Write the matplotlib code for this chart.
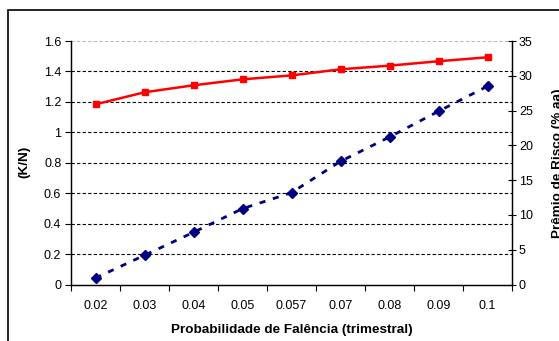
import numpy as np
import matplotlib.pyplot as plt
from matplotlib.patches import Rectangle

plt.rcParams['font.family'] = ['Liberation Sans', 'DejaVu Sans']

# probability categories on the x axis
prob_labels = ['0.02', '0.03', '0.04', '0.05', '0.057', '0.07', '0.08', '0.09', '0.1']
# K/N ratio (left axis)
kn = [1.184, 1.263, 1.309, 1.348, 1.374, 1.414, 1.438, 1.467, 1.493]
# risk premium, % per year (right axis)
premio = [0.93, 4.2, 7.5, 10.9, 13.2, 17.7, 21.2, 24.9, 28.5]

fig = plt.figure(figsize=(5.59, 3.41), dpi=100)
ax = fig.add_axes([71/559, 1 - 284.5/341, (512 - 71)/559, (284.5 - 41)/341])
ax2 = ax.twinx()

x = np.arange(len(prob_labels))

# grid from the left axis
for v in np.arange(0.2, 1.41, 0.2):
    ax.axhline(v, color='black', lw=0.8, ls=(0, (3, 2)), zorder=0)
ax.axhline(1.6, color='#bbbbbb', lw=0.8, ls=(0, (3, 2)), zorder=0)

ax.plot(x, kn, color='#ff0000', lw=1.8, marker='s', ms=4, mec='#ff0000', zorder=3)
ax2.plot(x, premio, color='#000080', lw=2, ls=(0, (2.2, 2.8)), marker='D', ms=5,
         mec='#000080', zorder=3)

ax.set_xlim(-0.5, len(prob_labels) - 0.5)
ax.set_ylim(0, 1.6)
ax2.set_ylim(0, 35)
ax.set_yticks(np.arange(0, 1.61, 0.2))
ax.set_yticklabels(['0', '0.2', '0.4', '0.6', '0.8', '1', '1.2', '1.4', '1.6'])
ax2.set_yticks(range(0, 36, 5))

ax.set_xticks(np.arange(-0.5, len(prob_labels), 1))
ax.set_xticklabels([])
ax.set_xticks(x, minor=True)
ax.set_xticklabels(prob_labels, minor=True)
ax.tick_params(axis='x', which='minor', length=0, pad=11)
ax.tick_params(axis='x', which='major', length=4, width=0.8, direction='out')
ax.tick_params(axis='y', length=4, width=0.8, pad=3)
ax2.tick_params(axis='y', length=6, width=0.8, pad=2, direction='inout')
for a in (ax, ax2):
    a.tick_params(which='both', labelsize=9)
    a.spines['top'].set_visible(False)
    for s in ('left', 'bottom', 'right'):
        a.spines[s].set_linewidth(0.9)

ax.set_xlabel('Probabilidade de Falência (trimestral)', fontsize=9.7,
              fontweight='bold', labelpad=9)
fig.text(24/559, 1 - 162/341, '(K/N)', rotation=90, fontsize=9.7,
         fontweight='bold', ha='center', va='center')
fig.text(552/559, 1 - 163/341, 'Prêmio de Risco (% aa)', rotation=90,
         fontsize=9.7, fontweight='bold', ha='left', va='center')

# chart-area frame
fig.patches.append(Rectangle((8/559, -0.1), 1.1, 1.1 - 10/341,
                             transform=fig.transFigure, fill=False,
                             ec='black', lw=1.2))

fig.savefig('out.png', dpi=100)
